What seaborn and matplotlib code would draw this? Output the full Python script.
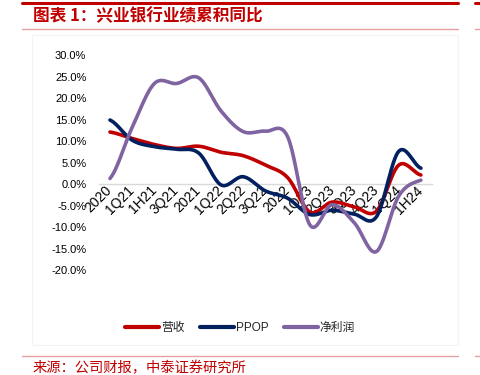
import numpy as np
import pandas as pd
import matplotlib
matplotlib.use('Agg')
import matplotlib.pyplot as plt
import seaborn as sns
from matplotlib.lines import Line2D
from matplotlib.patches import Rectangle

# ---------------- data ----------------
categories = ['2020', '1Q21', '1H21', '3Q21', '2021', '1Q22', '2Q22', '3Q22',
              '2022', '1Q23', '2Q23', '3Q23', '4Q23', '1Q24', '1H24']
revenue = [12.1, 10.6, 9.2, 8.3, 8.8, 7.4, 6.6, 4.4, 1.5, -6.5, -4.2, -5.3, -6.3, 4.4, 2.1]
ppop = [14.9, 10.2, 8.7, 8.1, 7.2, -0.2, 1.7, -1.6, -3.3, -7.1, -6.1, -7.0, -7.6, 7.6, 3.7]
net_profit = [1.3, 13.2, 23.4, 23.4, 24.7, 17.0, 12.2, 12.3, 11.0, -9.5, -4.8, -9.0, -15.7, -2.8, 0.9]
series_names = ['营收', 'PPOP', '净利润']
series_colors = ['#C00000', '#002060', '#8064A2']
yticks = [-20, -15, -10, -5, 0, 5, 10, 15, 20, 25, 30]
title_text = '图表 1：兴业银行业绩累积同比'
source_text = '来源：公司财报，中泰证券研究所'


def smooth_curve(vals, n=24):
    """Excel-style smoothed line: cubic Bezier between points (Catmull-Rom tangents)."""
    y = np.asarray(vals, dtype=float)
    k = len(y)
    m = np.zeros(k)
    for i in range(k):
        a = y[max(i - 1, 0)]
        b = y[min(i + 1, k - 1)]
        m[i] = (b - a) / 2.0
    xs, ys = [], []
    t = np.linspace(0, 1, n, endpoint=False)
    for i in range(k - 1):
        p0, p3 = y[i], y[i + 1]
        c1 = p0 + m[i] / 3.0
        c2 = p3 - m[i + 1] / 3.0
        yy = (1 - t) ** 3 * p0 + 3 * (1 - t) ** 2 * t * c1 + 3 * (1 - t) * t ** 2 * c2 + t ** 3 * p3
        xs.extend(i + t)
        ys.extend(yy)
    xs.append(k - 1)
    ys.append(y[-1])
    return np.array(xs), np.array(ys)


frames = []
for name, vals in zip(series_names, [revenue, ppop, net_profit]):
    sx, sy = smooth_curve(vals)
    frames.append(pd.DataFrame({'x': sx, 'y': sy, 'series': name}))
df = pd.concat(frames, ignore_index=True)

# ---------------- style ----------------
sns.set_style('white')
plt.rcParams['font.family'] = ['Liberation Sans', 'Noto Sans CJK SC', 'DejaVu Sans']
plt.rcParams['axes.unicode_minus'] = False

fig = plt.figure(figsize=(4.8, 3.75), dpi=100)
ax = fig.add_axes([0.206, 0.28, 0.694, 0.573])

sns.lineplot(data=df, x='x', y='y', hue='series', hue_order=series_names,
             palette=dict(zip(series_names, series_colors)), linewidth=2.6,
             estimator=None, sort=False, ax=ax)

ax.set_xlim(-0.5, len(categories) - 0.5)
ax.set_ylim(-20, 30)
ax.set_yticks(yticks)
ax.set_yticklabels([f'{v:.1f}%' for v in yticks], fontsize=8)
ax.set_xticks(range(len(categories)))
ax.set_xticklabels(categories, fontsize=8)
ax.set_xlabel('')
ax.set_ylabel('')
ax.tick_params(axis='both', length=0, colors='#000000')
ax.tick_params(axis='y', pad=9)
ax.tick_params(axis='x', pad=3)

for s in ['top', 'right', 'left']:
    ax.spines[s].set_visible(False)
ax.spines['bottom'].set_position(('data', 0))
ax.spines['bottom'].set_color('#D9D9D9')
ax.spines['bottom'].set_linewidth(1.0)
ax.spines['bottom'].set_zorder(0)

leg = ax.legend(loc='center', bbox_to_anchor=(0.50, 0.125), bbox_transform=fig.transFigure,
                ncol=3, frameon=False, fontsize=8.5, handlelength=2.9, handletextpad=0.15,
                columnspacing=1.3)
for line in leg.get_lines():
    line.set_linewidth(3.0)

# ---------------- frame decorations ----------------
fig.add_artist(Rectangle((32 / 480, 1 - 345 / 375), (458 - 32) / 480, (345 - 35) / 375,
                         transform=fig.transFigure, fill=False, edgecolor='#F3F3F3', lw=0.8))
fig.add_artist(Line2D([22 / 480, 458 / 480], [1 - 2.5 / 375, 1 - 2.5 / 375], color='#C00000', lw=2.2,
                      transform=fig.transFigure))
fig.add_artist(Line2D([475 / 480, 1.0], [1 - 2.5 / 375, 1 - 2.5 / 375], color='#C00000', lw=2.2,
                      transform=fig.transFigure))
for yy in [28.5, 356]:
    fig.add_artist(Line2D([22 / 480, 458 / 480], [1 - yy / 375, 1 - yy / 375], color='#E8A0A0', lw=1.0,
                          transform=fig.transFigure))
    fig.add_artist(Line2D([475 / 480, 1.0], [1 - yy / 375, 1 - yy / 375], color='#E8A0A0', lw=1.0,
                          transform=fig.transFigure))

fig.text(33 / 480, 1 - 16 / 375, title_text, color='#C00000', fontsize=12, fontweight='bold',
         ha='left', va='center', family=['Noto Sans CJK SC', 'DejaVu Sans'])
fig.text(33 / 480, 1 - 368 / 375, source_text, color='#C00000', fontsize=10.3,
         ha='left', va='center', family=['Noto Sans CJK SC', 'DejaVu Sans'])

plt.setp(ax.get_xticklabels(), rotation=45, ha='right', va='center', rotation_mode='anchor')

fig.savefig('out.png', dpi=100)
